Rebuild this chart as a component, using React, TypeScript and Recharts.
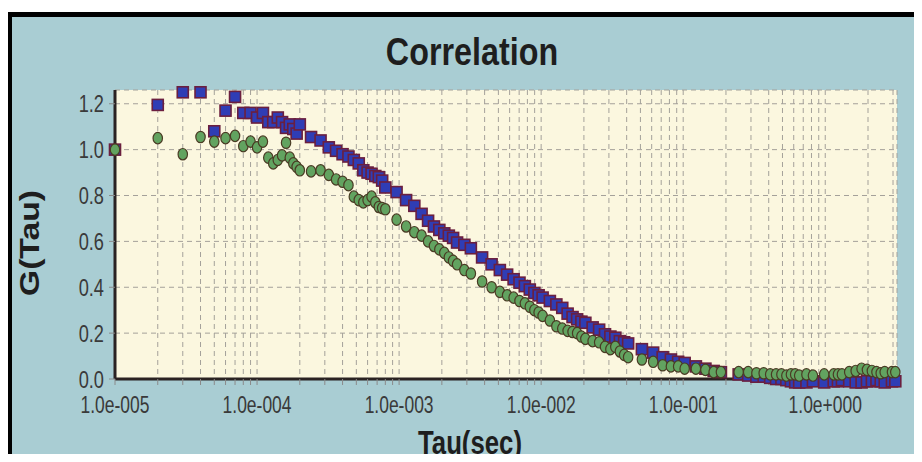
import React from 'react';
import { ScatterChart, Scatter, XAxis, YAxis, CartesianGrid } from 'recharts';

// lag times (s) of the correlator channels
const tau = [
    1e-5, 2e-5, 3e-5, 4e-5, 5e-5, 6e-5, 7e-5, 8e-5, 9e-5, 1.0e-4,
    1.1e-4, 1.2e-4, 1.3e-4, 1.4e-4, 1.5e-4, 1.6e-4, 1.7e-4, 1.8e-4, 1.9e-4, 2.0e-4,
    2.4e-4, 2.8e-4, 3.2e-4, 3.6e-4, 4.0e-4, 4.4e-4, 4.8e-4, 5.2e-4, 5.6e-4, 6.0e-4,
    6.4e-4, 6.8e-4, 7.2e-4, 7.6e-4, 8.0e-4,
    9.6e-4, 1.12e-3, 1.28e-3, 1.44e-3, 1.6e-3, 1.76e-3, 1.92e-3, 2.08e-3, 2.24e-3, 2.4e-3, 2.56e-3,
    2.88e-3, 3.2e-3,
    3.84e-3, 4.48e-3, 5.12e-3, 5.76e-3, 6.4e-3, 7.04e-3, 7.68e-3, 8.32e-3, 8.96e-3, 9.6e-3, 1.024e-2,
    1.152e-2, 1.28e-2, 1.408e-2, 1.536e-2, 1.664e-2, 1.792e-2, 1.92e-2, 2.048e-2,
    2.304e-2, 2.56e-2, 2.816e-2, 3.072e-2, 3.328e-2, 3.584e-2, 3.84e-2, 4.096e-2,
    5.12e-2, 6.144e-2, 7.168e-2, 8.192e-2, 9.216e-2, 0.1024, 0.12288, 0.14336, 0.16384, 0.18432,
    0.24576, 0.28672, 0.32768, 0.36864, 0.4096, 0.45056, 0.49152, 0.53248, 0.57344, 0.6144,
    0.65536, 0.73728, 0.8192, 0.98304, 1.14688, 1.2288, 1.31072, 1.47456, 1.6384, 1.80224,
    1.96608, 2.12992, 2.29376, 2.4576, 2.62144, 2.94912, 3.11296,
];

const blueG = [
    1.0, 1.195, 1.25, 1.25, 1.08, 1.17, 1.23, 1.16, 1.16, 1.14,
    1.16, 1.12, 1.12, 1.14, 1.12, 1.095, 1.11, 1.09, 1.07, 1.11,
    1.055, 1.04, 1.01, 0.995, 0.98, 0.97, 0.955, 0.94, 0.91, 0.9,
    0.895, 0.885, 0.88, 0.865, 0.835,
    0.815, 0.78, 0.755, 0.72, 0.69, 0.665, 0.65, 0.635, 0.625, 0.615, 0.595,
    0.585, 0.57,
    0.53, 0.5, 0.475, 0.455, 0.435, 0.42, 0.405, 0.39, 0.375, 0.365, 0.355,
    0.34, 0.325, 0.31, 0.285, 0.27, 0.26, 0.25, 0.245,
    0.225, 0.215, 0.195, 0.185, 0.18, 0.165, 0.16, 0.155,
    0.13, 0.115, 0.095, 0.085, 0.075, 0.07, 0.055, 0.045, 0.035, 0.03,
    0.02, 0.015, 0.01, 0.01, 0.005, 0, 0, -0.005, -0.01, -0.015,
    -0.015, -0.015, -0.01, -0.015, -0.01, -0.01, -0.005, -0.01, -0.015, -0.015,
    -0.01, -0.01, -0.005, -0.01, -0.015, -0.01, -0.01,
];

const greenG = [
    1.0, 1.05, 0.98, 1.055, 1.035, 1.05, 1.06, 1.015, 1.035, 1.01,
    1.035, 0.965, 0.94, 0.955, 0.975, 1.03, 0.965, 0.94, 0.925, 0.91,
    0.905, 0.91, 0.89, 0.87, 0.86, 0.845, 0.795, 0.78, 0.77, 0.78,
    0.795, 0.77, 0.75, 0.745, 0.74,
    0.695, 0.665, 0.64, 0.625, 0.6, 0.58, 0.565, 0.55, 0.53, 0.515, 0.5,
    0.475, 0.46,
    0.425, 0.4, 0.38, 0.365, 0.355, 0.34, 0.33, 0.315, 0.3, 0.29, 0.275,
    0.255, 0.23, 0.22, 0.21, 0.205, 0.2, 0.185, 0.175,
    0.165, 0.16, 0.14, 0.13, 0.14, 0.12, 0.105, 0.095,
    0.085, 0.075, 0.06, 0.055, 0.055, 0.045, 0.045, 0.04, 0.03, 0.03,
    0.03, 0.03, 0.025, 0.025, 0.02, 0.02, 0.02, 0.015, 0.02, 0.02,
    0.015, 0.02, 0.015, 0.02, 0.02, 0.02, 0.02, 0.03, 0.035, 0.045,
    0.04, 0.035, 0.03, 0.025, 0.03, 0.03, 0.03,
];

const decadeTicks = [1e-5, 1e-4, 1e-3, 1e-2, 1e-1, 1];
const minorSteps = [2, 3, 4, 5, 6, 7, 8, 9];
const yTicks = [0, 0.2, 0.4, 0.6, 0.8, 1.0, 1.2];

const xTicks: number[] = [];
decadeTicks.forEach((d) => {
    xTicks.push(d);
    minorSteps.forEach((m) => {
        if (d * m <= 3.2) xTicks.push(d * m);
    });
});

const blueData = tau.map((t, i) => ({ tau: t, g: blueG[i] }));
const greenData = tau.map((t, i) => ({ tau: t, g: greenG[i] }));

const FONT = '"Liberation Sans", Arial, sans-serif';
const FRAME = '#2a2222';
const TEXT = '#1e1e1e';

function formatTau(v: number) {
    const e = Math.round(Math.log10(v));
    if (Math.abs(v / Math.pow(10, e) - 1) > 1e-6) return '';
    const sign = e < 0 ? '-' : '+';
    return `1.0e${sign}${String(Math.abs(e)).padStart(3, '0')}`;
}

// the original uses a condensed face, so squeeze the glyphs horizontally
const XTick = (props: any) => {
    const label = formatTau(props.payload.value);
    if (!label) return null;
    return (
        <g transform={`translate(${props.x},${props.y})`}>
            <text transform="scale(0.76,1)" textAnchor="middle" dy="0.71em"
                fontSize={23} fill="#3a3a3a" fontFamily={FONT}>{label}</text>
        </g>
    );
};

const YTick = (props: any) => (
    <g transform={`translate(${props.x},${props.y})`}>
        <text transform="scale(0.76,1)" textAnchor="end" dy="0.36em"
            fontSize={24} fill="#3a3a3a" fontFamily={FONT}>{props.payload.value.toFixed(1)}</text>
    </g>
);

const BlueSquare = (props: any) => (
    <rect x={props.cx - 5.5} y={props.cy - 5.5} width={11} height={11}
        fill="#2f3db5" stroke="#6b1f3f" strokeWidth={1.6} />
);

const GreenDot = (props: any) => (
    <ellipse cx={props.cx} cy={props.cy} rx={4.7} ry={5.7}
        fill="#62a360" stroke="#4a3b24" strokeWidth={1.2} />
);

export default function App() {
    return (
        <div style={{ position: 'relative', width: 922, height: 462, margin: -8, background: '#fff', overflow: 'hidden', fontFamily: FONT }}>
            <style>{'.recharts-scatter { clip-path: none; }'}</style>
            <div style={{ position: 'absolute', left: 7, top: 12, width: 920, height: 455, background: '#a9cdd3', borderLeft: '5px solid #000', borderTop: '5px solid #000' }} />
            <div style={{ position: 'absolute', left: 272, width: 400, top: 33, textAlign: 'center', fontSize: 38, lineHeight: '38px', fontWeight: 700, color: TEXT, transform: 'scaleX(0.85)' }}>
                Correlation
            </div>
            <div style={{ position: 'absolute', left: 270, width: 400, top: 426, textAlign: 'center', fontSize: 33, lineHeight: '33px', fontWeight: 700, color: TEXT, transform: 'scaleX(0.78)' }}>
                Tau(sec)
            </div>
            <div style={{ position: 'absolute', left: 30, top: 243, width: 0, height: 0 }}>
                <div style={{ position: 'absolute', left: -80, top: -16, width: 160, textAlign: 'center', fontSize: 27, lineHeight: '32px', fontWeight: 700, color: TEXT, transform: 'rotate(-90deg) scaleX(1.25)' }}>
                    G(Tau)
                </div>
            </div>
            <div style={{ position: 'absolute', left: 0, top: 0 }}>
                <ScatterChart width={922} height={462} margin={{ top: 90, right: 25, bottom: 43, left: 55 }}>
                    <CartesianGrid fill="#fbf7df" stroke="#a4a19a" strokeDasharray="5 4" />
                    <XAxis
                        dataKey="tau"
                        type="number"
                        scale="log"
                        domain={[1e-5, 3.2]}
                        allowDataOverflow
                        ticks={xTicks}
                        interval={0}
                        height={40}
                        tickSize={6}
                        tickMargin={12}
                        tickLine={{ stroke: '#8a8a8a' }}
                        axisLine={{ stroke: FRAME, strokeWidth: 3 }}
                        tick={<XTick />}
                    />
                    <XAxis xAxisId="top" orientation="top" type="number" domain={[0, 1]} height={0}
                        tick={false} tickLine={false} axisLine={{ stroke: FRAME, strokeWidth: 3 }} />
                    <YAxis
                        dataKey="g"
                        type="number"
                        domain={[0, 1.26]}
                        allowDataOverflow
                        ticks={yTicks}
                        interval={0}
                        width={60}
                        tickSize={6}
                        tickMargin={5}
                        tickLine={{ stroke: '#8a8a8a' }}
                        axisLine={{ stroke: FRAME, strokeWidth: 3 }}
                        tick={<YTick />}
                    />
                    <YAxis yAxisId="right" orientation="right" type="number" domain={[0, 1]} width={0}
                        tick={false} tickLine={false} axisLine={{ stroke: FRAME, strokeWidth: 3 }} />
                    <Scatter data={blueData} shape={BlueSquare} isAnimationActive={false} />
                    <Scatter data={greenData} shape={GreenDot} isAnimationActive={false} />
                </ScatterChart>
            </div>
        </div>
    );
}
